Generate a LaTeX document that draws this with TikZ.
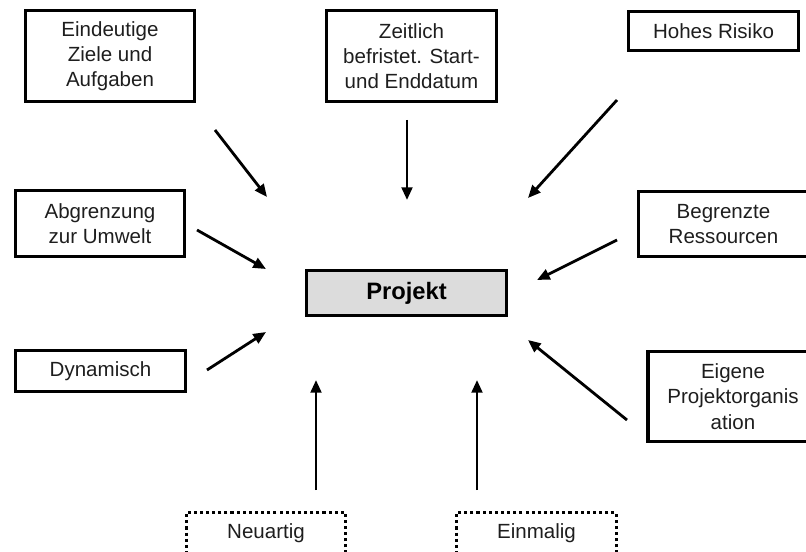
\documentclass[tikz,border=0pt]{standalone}
\usepackage{fontspec}
\setmainfont{Liberation Sans}
\usetikzlibrary{arrows.meta}
\definecolor{projfill}{RGB}{220,220,220}
\definecolor{txt}{RGB}{30,30,30}
\begin{document}
\begin{tikzpicture}[x=0.75pt,y=-0.75pt,
  box/.style={draw=black, line width=2.4pt, align=center, inner sep=0pt,
    font=\fontsize{15.4pt}{18.9pt}\selectfont, text=txt},
  dotbox/.style={box, line width=2.3pt, dash pattern=on 2.3pt off 2.3pt},
  core/.style={box, fill=projfill, text=black,
    font=\fontsize{17.8pt}{20pt}\selectfont\bfseries},
  feed/.style={line width=2.1pt, -{Triangle[length=9.5pt,width=8pt]}}]
  \useasboundingbox (0,0) rectangle (806,552);

  % central node
  \node[core, minimum width=150pt, minimum height=34pt] (proj) at (406.5,293) {Projekt};

  % characteristics
  \node[box, minimum width=127pt, minimum height=68.5pt] (ziele) at (110,56)
    {Eindeutige\\Ziele und\\Aufgaben};
  \node[box, minimum width=127.5pt, minimum height=68.5pt] (zeit) at (411.5,56)
    {Zeitlich\\befristet. Start-\\und Enddatum};
  \node[box, minimum width=127.5pt, minimum height=29.5pt] (risiko) at (713.5,31)
    {Hohes Risiko};
  \node[box, minimum width=127pt, minimum height=49.5pt] (umwelt) at (100,223.5)
    {Abgrenzung\\zur Umwelt};
  \node[box, minimum width=127.5pt, minimum height=49pt] (ress) at (723.5,224)
    {Begrenzte\\Ressourcen};
  \node[box, minimum width=127.5pt, minimum height=31pt] (dyn) at (100.5,371)
    {Dynamisch};
  \node[box, minimum width=127.5pt, minimum height=67.5pt] (org) at (733,396.5)
    {Eigene\\Projektorganis\\ation};
  \node[dotbox, minimum width=119.5pt, minimum height=31pt] (neu) at (266,533)
    {Neuartig};
  \node[dotbox, minimum width=119.5pt, minimum height=31pt] (einm) at (536.5,533)
    {Einmalig};

  % arrow end points
  \coordinate (z1) at (215,130);  \coordinate (z2) at (267,197);
  \coordinate (t1) at (407,120);  \coordinate (t2) at (407,200);
  \coordinate (r1) at (617,100);  \coordinate (r2) at (528,198);
  \coordinate (u1) at (197,230);  \coordinate (u2) at (266,269);
  \coordinate (b1) at (617,240);  \coordinate (b2) at (537,280);
  \coordinate (d1) at (207,370);  \coordinate (d2) at (266,332);
  \coordinate (o1) at (627,420);  \coordinate (o2) at (528,340);
  \coordinate (n1) at (316,490);  \coordinate (n2) at (316,380);
  \coordinate (e1) at (477,490);  \coordinate (e2) at (477,380);

  \draw[feed] (z1) -- (z2);
  \draw[feed] (t1) -- (t2);
  \draw[feed] (r1) -- (r2);
  \draw[feed] (u1) -- (u2);
  \draw[feed] (b1) -- (b2);
  \draw[feed] (d1) -- (d2);
  \draw[feed] (o1) -- (o2);
  \draw[feed] (n1) -- (n2);
  \draw[feed] (e1) -- (e2);
\end{tikzpicture}
\end{document}
